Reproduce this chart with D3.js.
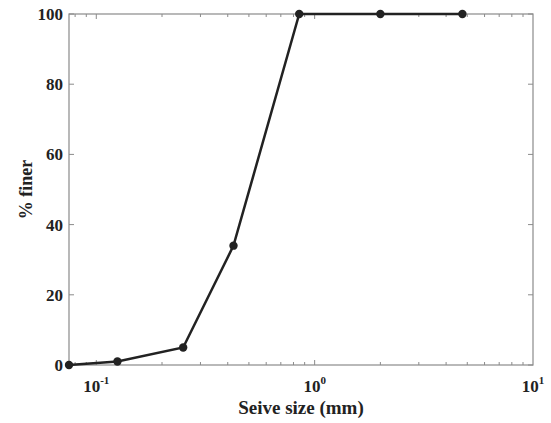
<!DOCTYPE html>
<html><head><meta charset="utf-8">
<script src="https://cdn.jsdelivr.net/npm/d3@7"></script>
<style>body{margin:0;background:#fff;} svg{display:block;}</style>
</head><body>
<script>
const sieveSize = [0.075, 0.125, 0.25, 0.425, 0.85, 2, 4.75];
const percentFiner = [0, 1, 5, 34, 100, 100, 100];
const yTicks = [0, 20, 40, 60, 80, 100];
const xDecades = [-1, 0, 1];
const xLabel = "Seive size (mm)";
const yLabel = "% finer";

const W = 551, H = 423;
const m = {l: 69, r: 18, t: 14, b: 58};
const svg = d3.select("body").append("svg").attr("width", W).attr("height", H);
const x = d3.scaleLog().domain([0.075, 10]).range([m.l, W - m.r]);
const y = d3.scaleLinear().domain([0, 100]).range([H - m.b, m.t]);
const font = "'Liberation Serif','Times New Roman',serif";
const axisCol = "#8a8a8a";

// minor ticks
const minor = [];
for (let e = -2; e <= 0; e++) for (let k = 1; k <= 9; k++) {
  const v = k * Math.pow(10, e);
  if (v >= 0.075 && v <= 10) minor.push(v);
}
const gx = svg.append("g");
minor.forEach(v => {
  const major = Math.abs(Math.log10(v) - Math.round(Math.log10(v))) < 1e-9;
  const len = major ? 5 : 3;
  gx.append("line").attr("x1", x(v)).attr("x2", x(v)).attr("y1", y(0)).attr("y2", y(0) - len).attr("stroke", axisCol);
  gx.append("line").attr("x1", x(v)).attr("x2", x(v)).attr("y1", y(100)).attr("y2", y(100) + len).attr("stroke", axisCol);
});
yTicks.forEach(t => {
  gx.append("line").attr("x1", x.range()[0]).attr("x2", x.range()[0] + 5).attr("y1", y(t)).attr("y2", y(t)).attr("stroke", axisCol);
  gx.append("line").attr("x1", x.range()[1]).attr("x2", x.range()[1] - 5).attr("y1", y(t)).attr("y2", y(t)).attr("stroke", axisCol);
});
svg.append("rect").attr("x", m.l).attr("y", m.t).attr("width", W - m.l - m.r).attr("height", H - m.t - m.b)
  .attr("fill", "none").attr("stroke", axisCol).attr("stroke-width", 1.2);

// y tick labels
svg.append("g").selectAll("text").data(yTicks).join("text")
  .attr("x", m.l - 6).attr("y", d => y(d)).attr("dy", "0.35em")
  .attr("text-anchor", "end").attr("font-family", font).attr("font-weight", "bold").attr("font-size", 17)
  .attr("fill", "#222").text(d => d);

// x tick labels
xDecades.forEach(e => {
  const t = svg.append("text").attr("x", x(Math.pow(10, e))).attr("y", y(0) + 27)
    .attr("text-anchor", "middle").attr("font-family", font).attr("font-weight", "bold").attr("font-size", 17).attr("fill", "#222");
  t.append("tspan").text("10");
  t.append("tspan").attr("dy", -8).attr("font-size", 11).text(String(e));
});

svg.append("text").attr("x", (m.l + W - m.r) / 2).attr("y", 414).attr("text-anchor", "middle")
  .attr("font-family", font).attr("font-weight", "bold").attr("font-size", 19).attr("fill", "#222").text(xLabel);
svg.append("text").attr("transform", `translate(32,${(m.t + H - m.b) / 2}) rotate(-90)`).attr("text-anchor", "middle")
  .attr("font-family", font).attr("font-weight", "bold").attr("font-size", 18).attr("fill", "#222").text(yLabel);

const data = sieveSize.map((s, i) => ({s, p: percentFiner[i]}));
svg.append("path").datum(data).attr("fill", "none").attr("stroke", "#222").attr("stroke-width", 2.5)
  .attr("d", d3.line().x(d => x(d.s)).y(d => y(d.p)));
svg.append("g").selectAll("circle").data(data).join("circle")
  .attr("cx", d => x(d.s)).attr("cy", d => y(d.p)).attr("r", 4.2).attr("fill", "#222");
</script>
</body></html>
